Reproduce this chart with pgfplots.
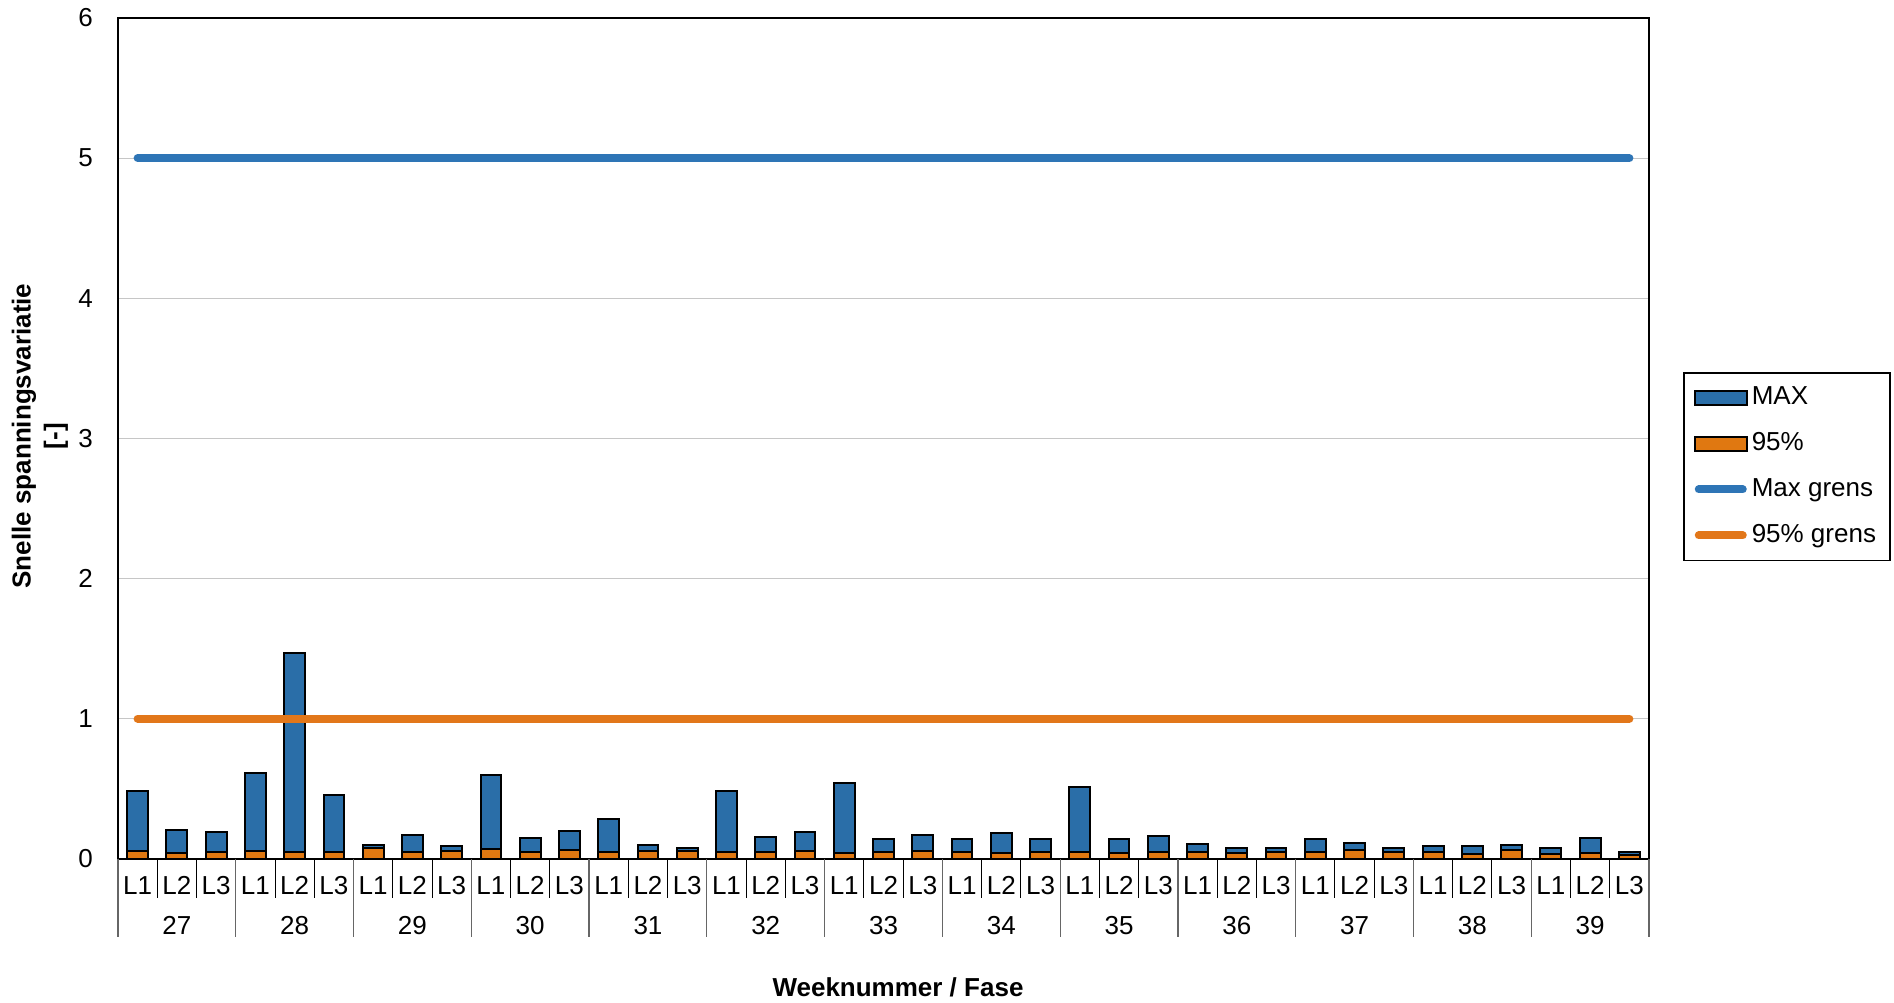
\documentclass[border=0pt]{standalone}
\usepackage{pgfplots}
\pgfplotsset{compat=1.18}
\usepackage{pgfplotstable}
\usepackage{fontspec}
\setmainfont{Liberation Sans}

\definecolor{barblue}{HTML}{2A6EA8}
\definecolor{barorange}{HTML}{E07811}
\definecolor{lineblue}{HTML}{2E75B6}
\definecolor{lineorange}{HTML}{E2771A}

% x = bar index (week 27 L1 = 0 ... week 39 L3 = 38)
\pgfplotstableread{
x   max    p95
0   0.486  0.055
1   0.206  0.043
2   0.194  0.048
3   0.615  0.055
4   1.471  0.045
5   0.457  0.050
6   0.100  0.079
7   0.170  0.045
8   0.090  0.057
9   0.600  0.067
10  0.150  0.045
11  0.200  0.062
12  0.285  0.048
13  0.098  0.057
14  0.077  0.055
15  0.486  0.045
16  0.156  0.045
17  0.194  0.053
18  0.538  0.043
19  0.141  0.045
20  0.167  0.053
21  0.141  0.045
22  0.187  0.040
23  0.141  0.045
24  0.510  0.045
25  0.139  0.040
26  0.163  0.045
27  0.108  0.045
28  0.074  0.040
29  0.077  0.050
30  0.141  0.045
31  0.115  0.062
32  0.079  0.050
33  0.091  0.050
34  0.091  0.033
35  0.100  0.062
36  0.077  0.033
37  0.148  0.038
38  0.048  0.026
}\spanning

\begin{document}
\fontsize{13}{15.6}\selectfont
\begin{tikzpicture}
\path[use as bounding box] (0,0) rectangle (947pt,-501pt);
\begin{axis}[
  at={(59pt,-9pt)}, anchor=north west,
  scale only axis, width=765.5pt, height=420.4pt,
  xmin=-0.5, xmax=38.5, ymin=0, ymax=6,
  xtick=\empty,
  ytick={0,1,...,6},
  major tick length=0pt,
  yticklabel style={xshift=-8pt},
  /pgf/number format/assume math mode=true,
  tick label style={font=\fontsize{13}{15.6}\selectfont},
  ymajorgrids, grid style={gray!45, line width=0.5pt},
  axis line style={line width=1pt},
  clip=false,
  legend style={at={(1,1)}, anchor=north west, xshift=17pt, yshift=-177pt,
    draw=black, line width=0.75pt, font=\fontsize{13}{15.6}\selectfont,
    row sep=8pt, inner xsep=5pt, inner ysep=5pt,
    nodes={inner sep=2pt}},
  legend cell align=left,
]
\addplot[ybar, bar width=0.53, bar shift=0pt, fill=barblue, draw=black, line width=1pt,
  legend image code/.code={\draw[fill=barblue, draw=black, line width=1pt] (0pt,-3.5pt) rectangle (26pt,3.5pt);}]
  table[x=x, y=max] {\spanning};
\addlegendentry{MAX}
\addplot[ybar, bar width=0.53, bar shift=0pt, fill=barorange, draw=black, line width=1pt,
  legend image code/.code={\draw[fill=barorange, draw=black, line width=1pt] (0pt,-3.5pt) rectangle (26pt,3.5pt);}]
  table[x=x, y=p95] {\spanning};
\addlegendentry{95\%}
\addplot[lineblue, line width=4pt, line cap=round,
  legend image code/.code={\draw[lineblue, line width=4pt, line cap=round] (2pt,0pt) -- (24pt,0pt);}]
  coordinates {(0,5) (38,5)};
\addlegendentry{Max grens}
\addplot[lineorange, line width=4pt, line cap=round,
  legend image code/.code={\draw[lineorange, line width=4pt, line cap=round] (2pt,0pt) -- (24pt,0pt);}]
  coordinates {(0,1) (38,1)};
\addlegendentry{95\% grens}

% multi-level category axis: separators and labels
\pgfplotsinvokeforeach{0,...,39}{
  \draw[black, line width=0.5pt] (axis cs:#1-0.5,0) -- ++(0pt,-19.5pt);
}
\pgfplotsinvokeforeach{0,...,13}{
  \draw[gray!80!black, line width=0.6pt] (axis cs:{3*#1-0.5},0) -- ++(0pt,-39pt);
}
\pgfplotsinvokeforeach{0,...,12}{
  \node[font=\fontsize{13}{15.6}\selectfont] at ([yshift=-13.2pt]axis cs:{3*#1},0) {L1};
  \node[font=\fontsize{13}{15.6}\selectfont] at ([yshift=-13.2pt]axis cs:{3*#1+1},0) {L2};
  \node[font=\fontsize{13}{15.6}\selectfont] at ([yshift=-13.2pt]axis cs:{3*#1+2},0) {L3};
  \node[font=\fontsize{13}{15.6}\selectfont] at ([yshift=-33.2pt]axis cs:{3*#1+1},0) {\number\numexpr27+#1\relax};
}
\end{axis}
\node[rotate=90, align=center, font=\bfseries\fontsize{13}{16}\selectfont] at (20pt,-218pt)
  {Snelle spanningsvariatie\\{[-]}};
\node[font=\bfseries\fontsize{13}{15.6}\selectfont] at (449pt,-493.5pt) {Weeknummer / Fase};
\end{tikzpicture}
\end{document}
